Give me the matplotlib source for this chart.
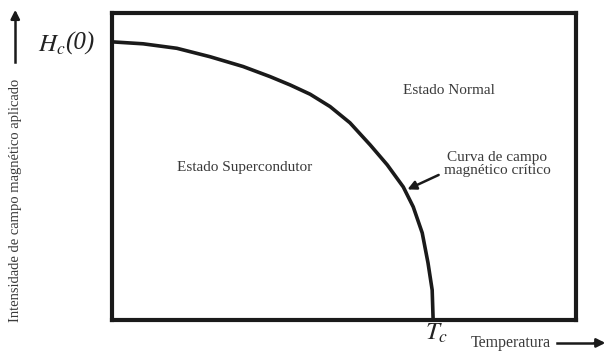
import numpy as np
import matplotlib.pyplot as plt

plt.rcParams['font.family'] = ['Liberation Serif', 'DejaVu Serif']

# critical field curve (T/Tc, H/Hc(0))
temp = [0.0, 0.097, 0.202, 0.305, 0.408, 0.492, 0.555, 0.617, 0.679, 0.741,
        0.804, 0.857, 0.907, 0.938, 0.966, 0.984, 0.997, 1.0]
field = [0.993, 0.986, 0.970, 0.940, 0.905, 0.869, 0.839, 0.806, 0.762, 0.704,
         0.625, 0.554, 0.475, 0.404, 0.311, 0.204, 0.107, 0.0]

fig = plt.figure(figsize=(6.1, 3.51), dpi=100)
ax = fig.add_axes([0.1836, 0.0883, 0.761, 0.875])
ax.plot(temp, field, color='#1a1a1a', lw=2.6, solid_joinstyle='round')
ax.set_xlim(0, 1.4455)
ax.set_ylim(0, 1.0964)
ax.set_xticks([])
ax.set_yticks([])
for s in ax.spines.values():
    s.set_linewidth(3)
    s.set_color('#1a1a1a')

txt = '#3a3a3a'
# region labels
ax.text(0.414, 0.546, 'Estado Supercondutor', ha='center', va='center', fontsize=11, color=txt)
ax.text(1.05, 0.821, 'Estado Normal', ha='center', va='center', fontsize=11, color=txt)
ax.text(1.199, 0.557, 'Curva de campo\nmagnético crítico', ha='center', va='center', fontsize=11,
        color=txt, linespacing=1.0)
ax.annotate('', xy=(0.912, 0.462), xytext=(1.025, 0.522),
            arrowprops=dict(arrowstyle='-|>', color='#1a1a1a', lw=1.8, mutation_scale=13))

# axis markers
fig.text(0.108, 0.872, r'$H_c$', ha='right', va='center', fontsize=18,
         math_fontfamily='stix', color='#222222')
fig.text(0.106, 0.877, '(0)', ha='left', va='center', fontsize=18,
         style='italic', color='#222222')
fig.text(0.716, 0.051, r'$T_c$', ha='center', va='center', fontsize=18,
         math_fontfamily='stix', color='#222222')
fig.text(0.838, 0.023, 'Temperatura', ha='center', va='center', fontsize=11.5, color=txt)
fig.text(0.025, 0.43, 'Intensidade de campo magnético aplicado', rotation=90,
         ha='center', va='center', fontsize=10.5, color=txt)
fig.add_artist(plt.Line2D([0.913, 0.98], [0.023, 0.023], color='#1a1a1a', lw=1.8))
ax.annotate('', xy=(0.997, 0.023), xytext=(0.97, 0.023), xycoords='figure fraction',
            arrowprops=dict(arrowstyle='-|>', color='#1a1a1a', lw=1.8, mutation_scale=13))
fig.add_artist(plt.Line2D([0.025, 0.025], [0.823, 0.95], color='#1a1a1a', lw=1.8))
ax.annotate('', xy=(0.025, 0.98), xytext=(0.025, 0.94), xycoords='figure fraction',
            arrowprops=dict(arrowstyle='-|>', color='#1a1a1a', lw=1.8, mutation_scale=13))

fig.savefig('out.png', dpi=100)
